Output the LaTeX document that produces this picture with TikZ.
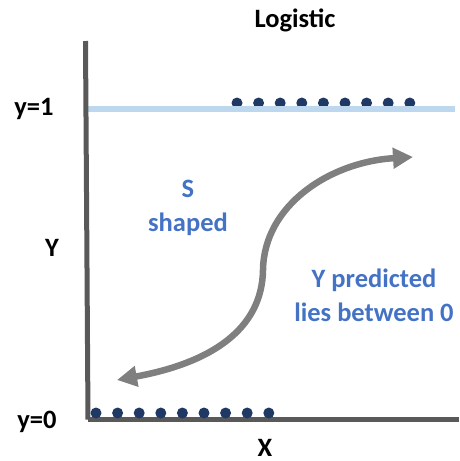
\documentclass[tikz,border=0pt]{standalone}
\usepackage{fontspec}
\setmainfont{Carlito}
\usetikzlibrary{arrows.meta}
\definecolor{axisgray}{HTML}{595959}
\definecolor{arrowgray}{HTML}{7F7F7F}
\definecolor{lightblue}{HTML}{BDD7EE}
\definecolor{navy}{HTML}{1F3864}
\definecolor{txtblue}{HTML}{4472C4}
\tikzset{
  lbl/.style={font=\bfseries\fontsize{26.5}{34}\selectfont, text=black, inner sep=0pt},
  bluelbl/.style={font=\bfseries\fontsize{26.5}{34}\selectfont, text=txtblue, inner sep=0pt, align=center},
  dot/.style={circle, fill=navy, minimum size=11pt, inner sep=0pt},
  axis/.style={draw=axisgray, line width=5pt},
  sarrow/.style={draw=arrowgray, line width=6.5pt, {Triangle[length=20pt,width=20pt]}-{Triangle[length=20pt,width=20pt]}}
}
\begin{document}
\begin{tikzpicture}[x=1pt,y=-1pt]
\useasboundingbox (0,0) rectangle (459,461);
% top dots (under the line)
\foreach \i in {0,...,8} {
  \node[dot] (t\i) at ({237+21.6*\i},103) {};
}
% light blue y=1 line
\coordinate (l1) at (87,109);
\coordinate (l2) at (455,109);
\draw[draw=lightblue, line width=6pt] (l1) -- (l2);
% axes
\coordinate (ytop) at (85.5,41);
\coordinate (origin) at (88,419.5);
\coordinate (xend) at (459,419.5);
\draw[axis] (ytop) -- (origin);
\draw[axis] (origin) -- (xend);
% bottom dots
\foreach \i in {0,...,8} {
  \node[dot] (b\i) at ({96+21.6*\i},413) {};
}
% S arrow
\coordinate (sa) at (117,380);
\coordinate (sm) at (263,270);
\coordinate (sb) at (413,157);
\draw[sarrow] (sa) .. controls (210,363) and (262,330) .. (sm)
  .. controls (264,205) and (330,162) .. (sb);
% labels
\node[lbl] (title) at (295,20) {Logistic};
\node[lbl] (y1) at (34,109) {y=1};
\node[lbl] (Y) at (52,248) {Y};
\node[lbl] (y0) at (37,422) {y=0};
\node[lbl] (X) at (265,448) {X};
\node[bluelbl] (s) at (188,208) {S\\shaped};
\node[bluelbl] (pred) at (374,295) {Y predicted\\lies between 0};
\end{tikzpicture}
\end{document}
